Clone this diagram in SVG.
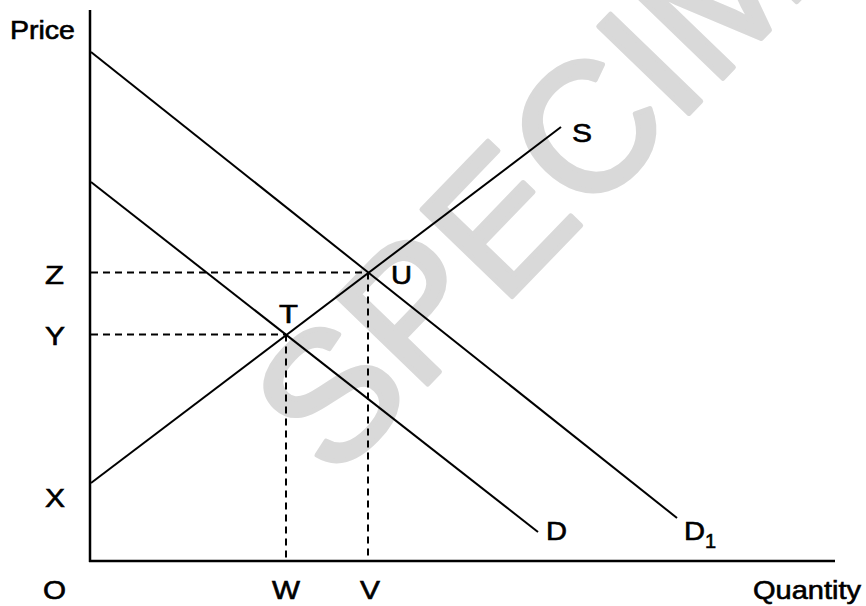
<svg xmlns="http://www.w3.org/2000/svg" width="866" height="606" viewBox="0 0 866 606">
  <style>
    .lbl { font-family: "Liberation Sans", Arial, sans-serif; font-size: 25px; fill: #000; stroke: #000; stroke-width: 0.6; }
    .axis { stroke: #000; stroke-width: 2.5; fill: none; }
    .curve { stroke: #000; stroke-width: 2; fill: none; stroke-linecap: butt; }
    .dash { stroke: #000; stroke-width: 2; fill: none; stroke-dasharray: 7 5; }
    .wm { font-family: "Liberation Sans", Arial, sans-serif; font-size: 182px; fill: #d9d9d9; stroke: #d9d9d9; stroke-width: 5; stroke-linejoin: round; }
  </style>
  <rect width="866" height="606" fill="#fff"/>

  <g id="watermark">
    <text class="wm" transform="translate(333 482) rotate(-46)">SPECIMEN</text>
  </g>

  <g id="axes">
    <line class="axis" x1="90" y1="10" x2="90" y2="562"/>
    <line class="axis" x1="89" y1="561" x2="835" y2="561"/>
  </g>

  <g id="guides">
    <line class="dash" x1="91" y1="272.5" x2="368" y2="272.5"/>
    <line class="dash" x1="91" y1="334.5" x2="286" y2="334.5"/>
    <line class="dash" x1="368" y1="272.5" x2="368" y2="560"/>
    <line class="dash" x1="286" y1="334.5" x2="286" y2="560"/>
  </g>

  <g id="curves">
    <line id="supply" class="curve" x1="91" y1="483" x2="561" y2="127"/>
    <line id="demand" class="curve" x1="91" y1="182" x2="538" y2="532"/>
    <line id="demand1" class="curve" x1="91" y1="52" x2="677" y2="518"/>
  </g>

  <g id="labels">
    <text class="lbl" x="10" y="39" textLength="65" lengthAdjust="spacingAndGlyphs">Price</text>
    <text class="lbl" x="45" y="284" textLength="19" lengthAdjust="spacingAndGlyphs">Z</text>
    <text class="lbl" x="45" y="345" textLength="20" lengthAdjust="spacingAndGlyphs">Y</text>
    <text class="lbl" x="45" y="507" textLength="20" lengthAdjust="spacingAndGlyphs">X</text>
    <text class="lbl" x="43" y="599" textLength="23" lengthAdjust="spacingAndGlyphs">O</text>
    <text class="lbl" x="272" y="599" textLength="28" lengthAdjust="spacingAndGlyphs">W</text>
    <text class="lbl" x="360" y="599" textLength="20" lengthAdjust="spacingAndGlyphs">V</text>
    <text class="lbl" x="753" y="599" textLength="108" lengthAdjust="spacingAndGlyphs">Quantity</text>
    <text class="lbl" x="546" y="540" textLength="21" lengthAdjust="spacingAndGlyphs">D</text>
    <text class="lbl" x="684" y="540" textLength="21" lengthAdjust="spacingAndGlyphs">D</text>
    <text class="lbl" x="705" y="548" style="font-size:20px">1</text>
    <text class="lbl" x="572" y="142" textLength="20" lengthAdjust="spacingAndGlyphs">S</text>
    <text class="lbl" x="391" y="284" textLength="21" lengthAdjust="spacingAndGlyphs">U</text>
    <text class="lbl" x="279" y="323" textLength="19" lengthAdjust="spacingAndGlyphs">T</text>
  </g>
</svg>
